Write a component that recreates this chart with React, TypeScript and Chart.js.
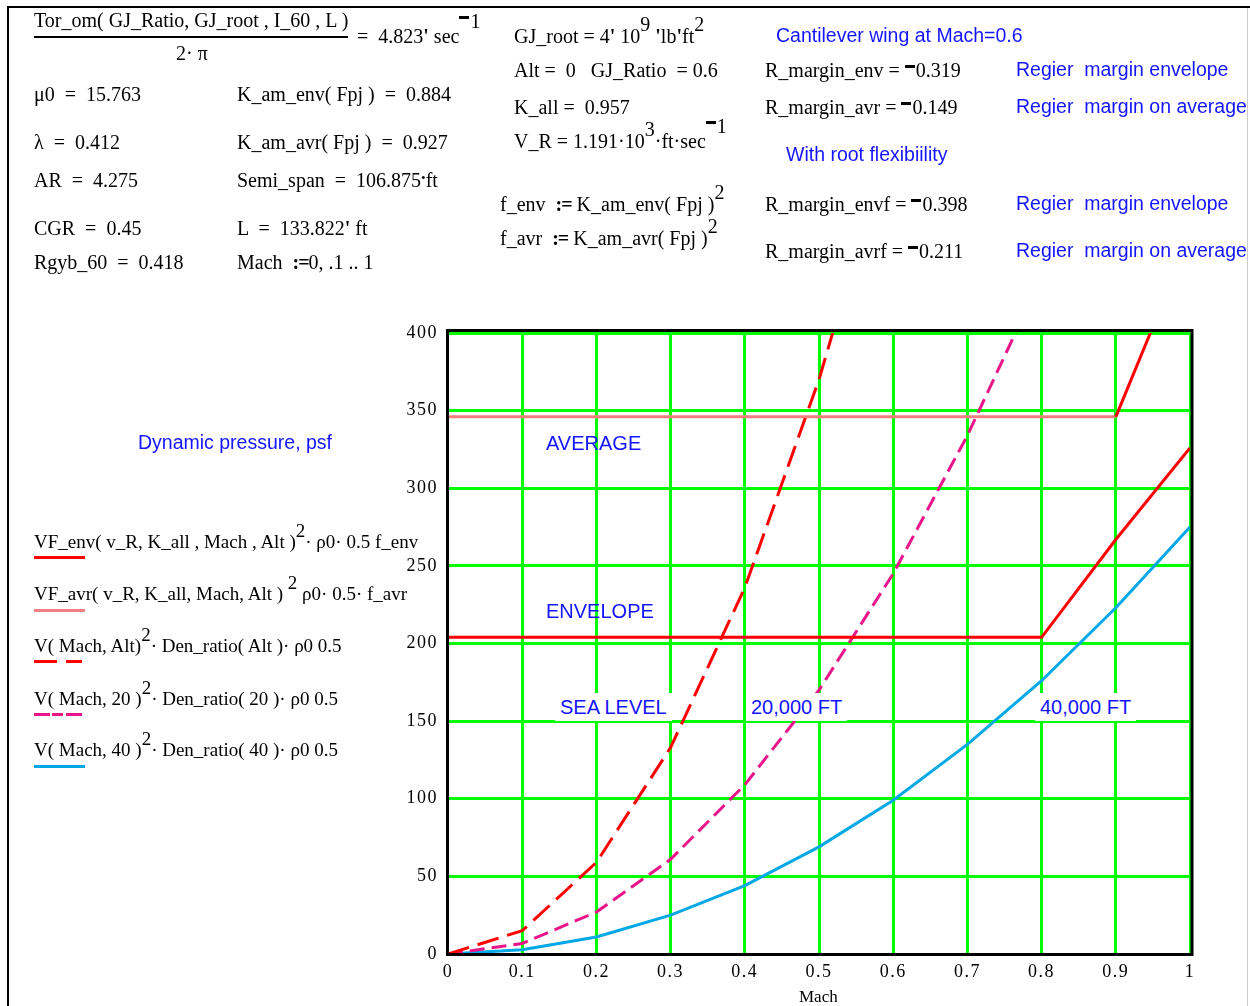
import React, { useEffect, useRef } from "react";
import { Chart, registerables } from "chart.js";

Chart.register(...registerables);

// Mach sweep, 0 .. 1 step 0.1
const machPoints = [0, 0.1, 0.2, 0.3, 0.4, 0.5, 0.6, 0.7, 0.8, 0.9, 1.0];
// Flutter dynamic pressure (psf): envelope and average stiffness
const envelopeQ = [204, 204, 204, 204, 204, 204, 204, 204, 204, 267, 326];
const averageQ = [346, 346, 346, 346, 346, 346, 346, 346, 346, 346, 462];
// Flight dynamic pressure (psf) at sea level, 20,000 ft and 40,000 ft
const seaLevelQ = [0, 15, 59, 133, 236, 370, 533, null, null, null, null];
const ft20kQ = [0, 6.8, 27, 61, 109, 170, 245, 334, 436, null, null];
const ft40kQ = [0, 2.8, 11, 25, 44, 69, 99, 135, 176, 223, 275];

const machTickLabels = ["0", "0.1", "0.2", "0.3", "0.4", "0.5", "0.6", "0.7", "0.8", "0.9", "1"];
const qTickLabels = ["0", "50", "100", "150", "200", "250", "300", "350", "400"];

const RED = "#ff0000";
const SALMON = "#f08080";
const MAGENTA = "#e8168a";
const SKY = "#00a8e6";
const GRID = "#00ff00";
const BLUE = "#1414ff";

const SERIF = '"Liberation Serif", "Times New Roman", serif';
const SANS = '"Liberation Sans", Arial, sans-serif';

const pts = (vals: (number | null)[]) => machPoints.map((m, i) => ({ x: m, y: vals[i] }));

const framePlugin = {
  id: "frame",
  beforeDraw(chart: any) {
    chart.ctx.letterSpacing = "1.5px";
  },
  afterDraw(chart: any) {
    const { ctx, chartArea: a } = chart;
    ctx.save();
    ctx.strokeStyle = "#000";
    ctx.lineWidth = 3;
    ctx.strokeRect(a.left - 0.5, a.top - 2.5, a.right - a.left + 2.5, a.bottom - a.top + 3);
    ctx.restore();
  },
};

function FlutterChart() {
  const ref = useRef<HTMLCanvasElement | null>(null);
  useEffect(() => {
    if (!ref.current) return;
    const base = { showLine: true, pointRadius: 0, borderWidth: 3, tension: 0, fill: false };
    const chart = new Chart(ref.current, {
      type: "scatter",
      data: {
        datasets: [
          { ...base, label: "VF_env", data: pts(envelopeQ), borderColor: RED },
          {
            ...base,
            label: "VF_avr",
            data: pts(averageQ),
            borderColor: SALMON,
            segment: { borderColor: (c: any) => (c.p0DataIndex >= 9 ? RED : SALMON) },
          },
          { ...base, label: "Sea level", data: pts(seaLevelQ), borderColor: RED, borderDash: [22, 9] },
          { ...base, label: "20", data: pts(ft20kQ), borderColor: MAGENTA, borderDash: [15, 7] },
          { ...base, label: "40", data: pts(ft40kQ), borderColor: SKY },
        ],
      } as any,
      options: {
        animation: false,
        responsive: false,
        events: [],
        layout: { padding: { left: 0, right: 60, top: 333, bottom: 0 } },
        plugins: { legend: { display: false }, tooltip: { enabled: false } },
        scales: {
          x: {
            type: "linear",
            min: 0,
            max: 1,
            afterFit: (s: any) => {
              s.height = 52;
            },
            border: { display: false },
            grid: {
              color: (c: any) => (c.tick && c.tick.value === 0 ? "rgba(0,0,0,0)" : GRID),
              lineWidth: 3,
              drawTicks: false,
            },
            ticks: {
              stepSize: 0.1,
              autoSkip: false,
              maxRotation: 0,
              padding: 7,
              color: "#000",
              font: { family: SERIF, size: 18 },
              callback: (_v: any, i: number) => machTickLabels[i] ?? "",
            },
          },
          y: {
            type: "linear",
            min: 0,
            max: 400,
            afterFit: (s: any) => {
              s.width = 448;
            },
            border: { display: false },
            grid: {
              color: (c: any) => (c.tick && c.tick.value === 0 ? "rgba(0,0,0,0)" : GRID),
              lineWidth: 3,
              drawTicks: false,
            },
            ticks: {
              stepSize: 50,
              autoSkip: false,
              padding: 10,
              color: "#000",
              font: { family: SERIF, size: 18 },
              callback: (_v: any, i: number) => qTickLabels[i] ?? "",
            },
          },
        },
      } as any,
      plugins: [framePlugin],
    });
    return () => chart.destroy();
  }, []);
  return <canvas ref={ref} width={1250} height={1006} style={{ position: "absolute", left: 0, top: 0, display: "block" }} />;
}

type TProps = {
  x: number;
  y: number;
  size?: number;
  sans?: boolean;
  color?: string;
  bg?: boolean;
  children?: React.ReactNode;
};

const T = ({ x, y, size = 20, sans = false, color = "#000", bg = false, children }: TProps) => (
  <div
    style={{
      position: "absolute",
      left: x,
      top: y,
      transform: "translateY(-50%)",
      whiteSpace: "nowrap",
      fontFamily: sans ? SANS : SERIF,
      fontSize: size,
      lineHeight: 1,
      color,
      background: bg ? "#fff" : undefined,
      padding: bg ? "4px 5px" : undefined,
      marginLeft: bg ? -5 : undefined,
    }}
  >
    {children}
  </div>
);

const Sup = ({ children }: { children: React.ReactNode }) => (
  <span style={{ position: "relative", top: "-0.6em" }}>{children}</span>
);

// Mathcad's heavy minus sign
const Neg = () => (
  <span
    style={{
      display: "inline-block",
      width: "0.5em",
      height: 3,
      background: "#000",
      verticalAlign: "0.45em",
      marginRight: 1,
    }}
  />
);

const Def = () => <b style={{ letterSpacing: -1 }}>:=</b>;

const Swatch = ({ x, y, w, color }: { x: number; y: number; w: number; color: string }) => (
  <div style={{ position: "absolute", left: x, top: y, width: w, height: 3, background: color }} />
);

const SUBHEAD = 19.5;
const KEY = 19;

export default function App() {
  return (
    <div style={{ position: "absolute", left: 0, top: 0, width: 1250, height: 1006, overflow: "hidden", background: "#fff" }}>
      <FlutterChart />

      {/* worksheet frame */}
      <div style={{ position: "absolute", left: 7, top: 6, width: 2, height: 1000, background: "#000" }} />
      <div style={{ position: "absolute", left: 7, top: 6, width: 1243, height: 2, background: "#000" }} />
      <div style={{ position: "absolute", left: 1247, top: 8, width: 1, height: 998, background: "#c8c8c8" }} />

      {/* torsion frequency */}
      <T x={34} y={20}>Tor_om( GJ_Ratio, GJ_root , I_60 , L )</T>
      <div style={{ position: "absolute", left: 34, top: 36, width: 314, height: 2, background: "#000" }} />
      <T x={176} y={53}>2· π</T>
      <T x={357} y={36}>
        = &nbsp;4.823<b>'</b> sec<span style={{ position: "relative", top: "-0.75em" }}><Neg />1</span>
      </T>

      <T x={34} y={94}>μ0 &nbsp;= &nbsp;15.763</T>
      <T x={237} y={94}>K_am_env( Fpj ) &nbsp;= &nbsp;0.884</T>
      <T x={34} y={142}>λ &nbsp;= &nbsp;0.412</T>
      <T x={237} y={142}>K_am_avr( Fpj ) &nbsp;= &nbsp;0.927</T>
      <T x={34} y={180}>AR &nbsp;= &nbsp;4.275</T>
      <T x={237} y={180}>Semi_span &nbsp;= &nbsp;106.875<span style={{ fontSize: 13, verticalAlign: "0.35em" }}>•</span>ft</T>
      <T x={34} y={228}>CGR &nbsp;= &nbsp;0.45</T>
      <T x={237} y={228}>L &nbsp;= &nbsp;133.822<b>'</b> ft</T>
      <T x={34} y={262}>Rgyb_60 &nbsp;= &nbsp;0.418</T>
      <T x={237} y={262}>
        Mach &nbsp;<Def />0, .1 .. 1
      </T>

      <T x={514} y={36}>
        GJ_root = 4<b>'</b> 10<Sup>9</Sup> <b>'</b>lb<b>'</b>ft<Sup>2</Sup>
      </T>
      <T x={514} y={70}>Alt = &nbsp;0 &nbsp;&nbsp;GJ_Ratio &nbsp;= 0.6</T>
      <T x={514} y={107}>K_all = &nbsp;0.957</T>
      <T x={514} y={141}>
        V_R = 1.191·10<Sup>3</Sup>·ft·sec<span style={{ position: "relative", top: "-0.75em" }}><Neg />1</span>
      </T>
      <T x={500} y={204}>
        f_env &nbsp;<Def /> K_am_env( Fpj )<Sup>2</Sup>
      </T>
      <T x={500} y={238}>
        f_avr &nbsp;<Def /> K_am_avr( Fpj )<Sup>2</Sup>
      </T>

      <T x={765} y={70}>R_margin_env = <Neg />0.319</T>
      <T x={765} y={107}>R_margin_avr = <Neg />0.149</T>
      <T x={765} y={204}>R_margin_envf = <Neg />0.398</T>
      <T x={765} y={251}>R_margin_avrf = <Neg />0.211</T>

      <T x={776} y={36} size={SUBHEAD} sans color={BLUE}>Cantilever wing at Mach=0.6</T>
      <T x={1016} y={70} size={SUBHEAD} sans color={BLUE}>Regier&nbsp; margin envelope</T>
      <T x={1016} y={107} size={SUBHEAD} sans color={BLUE}>Regier&nbsp; margin on average</T>
      <T x={786} y={155} size={SUBHEAD} sans color={BLUE}>With root flexibiility</T>
      <T x={1016} y={204} size={SUBHEAD} sans color={BLUE}>Regier&nbsp; margin envelope</T>
      <T x={1016} y={251} size={SUBHEAD} sans color={BLUE}>Regier&nbsp; margin on average</T>

      {/* plot annotations */}
      <T x={138} y={443} size={SUBHEAD} sans color={BLUE}>Dynamic pressure, psf</T>
      <T x={546} y={443} size={20} sans color={BLUE}>AVERAGE</T>
      <T x={546} y={611} size={20} sans color={BLUE}>ENVELOPE</T>
      <T x={560} y={707} size={20} sans color={BLUE} bg>SEA LEVEL</T>
      <T x={751} y={707} size={20} sans color={BLUE} bg>20,000 FT</T>
      <T x={1040} y={707} size={20} sans color={BLUE} bg>40,000 FT</T>
      <T x={799} y={996} size={17}>Mach</T>

      {/* trace key */}
      <T x={34} y={541} size={KEY}>
        VF_env( v_R, K_all , Mach , Alt )<Sup>2</Sup>· ρ0· 0.5 f_env
      </T>
      <Swatch x={34} y={556} w={51} color={RED} />
      <T x={34} y={593} size={KEY}>
        VF_avr( v_R, K_all, Mach, Alt )<Sup> 2</Sup> ρ0· 0.5· f_avr
      </T>
      <Swatch x={34} y={609} w={51} color={SALMON} />
      <T x={34} y={645} size={KEY}>
        V( Mach, Alt)<Sup>2</Sup>· Den_ratio( Alt )· ρ0 0.5
      </T>
      <Swatch x={34} y={660} w={23} color={RED} />
      <Swatch x={66} y={660} w={16} color={RED} />
      <T x={34} y={698} size={KEY}>
        V( Mach, 20 )<Sup>2</Sup>· Den_ratio( 20 )· ρ0 0.5
      </T>
      <Swatch x={34} y={713} w={16} color={MAGENTA} />
      <Swatch x={52} y={713} w={11} color={MAGENTA} />
      <Swatch x={66} y={713} w={16} color={MAGENTA} />
      <T x={34} y={749} size={KEY}>
        V( Mach, 40 )<Sup>2</Sup>· Den_ratio( 40 )· ρ0 0.5
      </T>
      <Swatch x={34} y={765} w={51} color={SKY} />
    </div>
  );
}
